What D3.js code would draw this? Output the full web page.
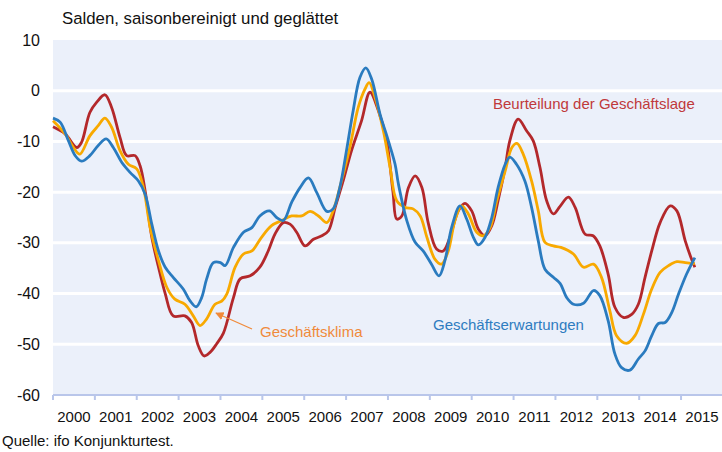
<!DOCTYPE html>
<html>
<head>
<meta charset="utf-8">
<script src="https://cdn.jsdelivr.net/npm/d3@7"></script>
<style>
  body { margin: 0; background: #fff; }
  text { font-family: "Liberation Sans", Arial, sans-serif; }
</style>
</head>
<body>
<div id="chart"></div>
<script>
// decimal year, balance value
const lageData = [
  [2000.0,-7.1],[2000.29,-8.5],[2000.57,-11.2],[2000.68,-10.2],[2000.88,-4.3],[2001.04,-2.3],
  [2001.24,-0.8],[2001.40,-3.3],[2001.60,-9.2],[2001.76,-12.8],[2001.96,-12.8],[2002.08,-14.8],
  [2002.2,-19.7],[2002.36,-28.9],[2002.52,-34.8],[2002.68,-40],[2002.87,-44.4],[2003.15,-44.4],
  [2003.31,-45.7],[2003.47,-50.3],[2003.61,-52.3],[2003.75,-51.6],[2003.91,-49.9],[2004.07,-47.8],
  [2004.31,-40.8],[2004.47,-37.1],[2004.71,-36.5],[2004.94,-34.8],[2005.14,-31.6],[2005.3,-28.3],
  [2005.5,-26],[2005.66,-26.3],[2005.82,-27.9],[2006.02,-30.6],[2006.22,-29.3],[2006.42,-28.6],
  [2006.58,-27.6],[2006.74,-23],[2006.93,-17.8],[2007.13,-11.8],[2007.37,-5.9],[2007.57,-0.3],
  [2007.77,-3.9],[2007.97,-9.9],[2008.12,-20],[2008.21,-25.3],[2008.33,-24.7],[2008.49,-19.1],
  [2008.65,-16.8],[2008.81,-19.1],[2008.96,-26],[2009.16,-31.2],[2009.32,-31.6],[2009.48,-28.9],
  [2009.68,-23.7],[2009.84,-22.2],[2010.0,-23.7],[2010.16,-27.3],[2010.32,-28.6],[2010.48,-26.6],
  [2010.63,-21.7],[2010.8,-15.1],[2010.91,-9.9],[2011.11,-5.6],[2011.31,-7.9],[2011.47,-9.9],
  [2011.63,-15.1],[2011.79,-21.7],[2011.95,-24.3],[2012.11,-22.8],[2012.31,-21],[2012.47,-23],
  [2012.71,-28.3],[2012.90,-28.6],[2013.06,-30.6],[2013.26,-36.2],[2013.42,-42.7],[2013.62,-44.7],
  [2013.82,-44.1],[2013.98,-42.1],[2014.14,-36.8],[2014.30,-31.6],[2014.50,-26],[2014.74,-22.7],
  [2014.9,-23.7],[2015.1,-29.6],[2015.25,-33.2],[2015.33,-34.8]
];
const klimaData = [
  [2000.0,-5.9],[2000.29,-8.5],[2000.49,-11.2],[2000.64,-12.5],[2000.88,-8.9],[2001.08,-6.9],
  [2001.24,-5.4],[2001.40,-7.2],[2001.60,-11.8],[2001.8,-14.5],[2002.0,-15.4],[2002.16,-19.1],
  [2002.32,-27],[2002.52,-33.5],[2002.72,-38.8],[2002.91,-41.1],[2003.15,-42.1],[2003.35,-44.4],
  [2003.51,-46.3],[2003.67,-45],[2003.87,-42.1],[2004.03,-41.5],[2004.15,-40.1],[2004.35,-34.8],
  [2004.55,-32.2],[2004.75,-31.6],[2004.98,-28.9],[2005.22,-26.6],[2005.46,-25.6],[2005.7,-24.7],
  [2005.94,-24.7],[2006.14,-23.8],[2006.34,-24.7],[2006.54,-26],[2006.69,-23.7],[2006.89,-17.8],
  [2007.09,-11.2],[2007.29,-3.3],[2007.45,0.3],[2007.55,1.6],[2007.69,-1.3],[2007.89,-7.9],
  [2008.05,-15.1],[2008.21,-21.7],[2008.41,-23],[2008.6,-23.3],[2008.77,-24.7],[2008.93,-28.9],
  [2009.12,-33.2],[2009.28,-34.2],[2009.44,-31.6],[2009.6,-25.6],[2009.76,-22.7],[2009.92,-24.3],
  [2010.12,-27.9],[2010.28,-28.6],[2010.44,-27],[2010.6,-21.7],[2010.8,-15.8],[2010.96,-11.2],
  [2011.08,-10.4],[2011.23,-12.5],[2011.43,-17.8],[2011.59,-23.7],[2011.75,-29.9],[2011.95,-30.6],
  [2012.13,-30.9],[2012.43,-32.2],[2012.67,-34.8],[2012.91,-34.2],[2013.1,-36.8],[2013.3,-43.4],
  [2013.46,-48.3],[2013.7,-49.8],[2013.9,-48.3],[2014.1,-44.1],[2014.3,-39.1],[2014.5,-35.8],
  [2014.7,-34.5],[2014.9,-33.7],[2015.1,-33.9],[2015.33,-34.1]
];
const erwartungData = [
  [2000.0,-5.4],[2000.17,-6.2],[2000.37,-9.9],[2000.53,-12.8],[2000.68,-13.9],[2000.88,-12.8],
  [2001.08,-10.8],[2001.27,-9.5],[2001.44,-11.2],[2001.64,-14.1],[2001.84,-16.1],[2002.04,-17.8],
  [2002.2,-20.4],[2002.36,-26.3],[2002.52,-31.6],[2002.68,-34.8],[2002.87,-36.8],[2003.11,-39.1],
  [2003.27,-41.4],[2003.42,-42.6],[2003.55,-40.8],[2003.67,-37.1],[2003.83,-33.9],[2004.0,-33.9],
  [2004.11,-34.5],[2004.31,-30.9],[2004.55,-27.9],[2004.75,-27],[2004.94,-24.7],[2005.17,-23.7],
  [2005.34,-25],[2005.5,-25.6],[2005.7,-22],[2005.9,-19.1],[2006.1,-17.2],[2006.3,-20.1],
  [2006.54,-23.8],[2006.69,-23.3],[2006.85,-19.1],[2007.01,-11.8],[2007.17,-3.9],[2007.33,2.6],
  [2007.47,4.5],[2007.61,2.3],[2007.81,-4.6],[2008.01,-9.9],[2008.17,-14.5],[2008.25,-18.4],
  [2008.45,-25.6],[2008.65,-29.9],[2008.84,-31.6],[2009.04,-34.2],[2009.22,-36.5],[2009.36,-33.5],
  [2009.52,-27],[2009.72,-22.7],[2009.88,-25.3],[2010.04,-28.9],[2010.16,-30.4],[2010.32,-28.9],
  [2010.48,-25],[2010.63,-19.1],[2010.8,-14.5],[2010.91,-13.1],[2011.07,-14.5],[2011.27,-17.8],
  [2011.43,-23],[2011.59,-29.6],[2011.75,-35.2],[2011.95,-36.8],[2012.11,-38],[2012.27,-40.8],
  [2012.43,-42.1],[2012.67,-41.9],[2012.91,-39.4],[2013.06,-40.4],[2013.26,-45.4],[2013.42,-51.9],
  [2013.58,-54.6],[2013.78,-55.1],[2013.98,-52.9],[2014.14,-51.3],[2014.30,-48.3],[2014.46,-45.9],
  [2014.62,-45.7],[2014.78,-43.7],[2014.94,-40.1],[2015.13,-36.2],[2015.33,-32.9]
];
const years = d3.range(2000, 2016);
const yTicks = [10, 0, -10, -20, -30, -40, -50, -60];

const width = 722, height = 452;
const margin = { top: 40, right: 0, bottom: 57, left: 53 };

const svg = d3.select("#chart").append("svg")
    .attr("width", width)
    .attr("height", height);

const x = d3.scaleLinear().domain([2000, 2016]).range([margin.left, margin.left + 16 * 41.87]);
const y = d3.scaleLinear().domain([-60, 10]).range([height - margin.bottom, margin.top]);

// plot background
svg.append("rect")
    .attr("x", x(2000)).attr("y", y(10))
    .attr("width", width - x(2000)).attr("height", y(-60) - y(10))
    .attr("fill", "#ebf0fa");

// gridlines
svg.append("g").selectAll("line")
    .data(yTicks.filter(d => d > -60 && d < 10))
    .join("line")
    .attr("x1", x(2000)).attr("x2", width)
    .attr("y1", d => y(d)).attr("y2", d => y(d))
    .attr("stroke", "#fff").attr("stroke-width", 3);

// y labels
svg.append("g").selectAll("text")
    .data(yTicks)
    .join("text")
    .attr("x", 40).attr("y", d => y(d))
    .attr("dy", "0.35em")
    .attr("text-anchor", "end")
    .attr("font-size", 16)
    .attr("fill", "#111")
    .text(d => d);

// x axis
const xAxis = svg.append("g").attr("transform", `translate(0,${y(-60)})`);
xAxis.append("line")
    .attr("x1", x(2000)).attr("x2", width)
    .attr("stroke", "#b9c6ea").attr("stroke-width", 2);
xAxis.selectAll(".tick")
    .data(years)
    .join("line")
    .attr("class", "tick")
    .attr("x1", d => x(d)).attr("x2", d => x(d))
    .attr("y1", 0).attr("y2", 5)
    .attr("stroke", "#b9c6ea").attr("stroke-width", 2);
xAxis.selectAll(".lbl")
    .data(years)
    .join("text")
    .attr("class", "lbl")
    .attr("x", d => x(d + 0.5)).attr("y", 27)
    .attr("text-anchor", "middle")
    .attr("font-size", 15)
    .attr("fill", "#111")
    .text(d => d);

// lines
const line = d3.line()
    .x(d => x(d[0]))
    .y(d => y(d[1]))
    .curve(d3.curveCatmullRom.alpha(0.5));

const series = [
  { data: lageData, color: "#b3282b" },
  { data: klimaData, color: "#f8a900" },
  { data: erwartungData, color: "#2a7bbf" }
];
svg.append("g").selectAll("path")
    .data(series)
    .join("path")
    .attr("d", d => line(d.data))
    .attr("fill", "none")
    .attr("stroke", d => d.color)
    .attr("stroke-width", 2.8)
    .attr("stroke-linejoin", "round");

// annotations
svg.append("text")
    .attr("x", 493).attr("y", 109)
    .attr("font-size", 15)
    .attr("fill", "#c0393b")
    .text("Beurteilung der Geschäftslage");

svg.append("text")
    .attr("x", 433).attr("y", 330)
    .attr("font-size", 15)
    .attr("fill", "#2e7cc0")
    .text("Geschäftserwartungen");

svg.append("text")
    .attr("x", 260).attr("y", 337)
    .attr("font-size", 15)
    .attr("fill", "#f08a3a")
    .text("Geschäftsklima");

svg.append("defs").append("marker")
    .attr("id", "arr")
    .attr("viewBox", "0 0 10 10")
    .attr("refX", 9).attr("refY", 5)
    .attr("markerWidth", 7).attr("markerHeight", 7)
    .attr("orient", "auto")
    .append("path")
    .attr("d", "M0,0 L10,5 L0,10 Z")
    .attr("fill", "#f08a3a");

svg.append("line")
    .attr("x1", 252).attr("y1", 329)
    .attr("x2", 216).attr("y2", 313)
    .attr("stroke", "#f08a3a").attr("stroke-width", 1.2)
    .attr("marker-end", "url(#arr)");

// title and source
svg.append("text")
    .attr("x", 62).attr("y", 24)
    .attr("font-size", 16.8)
    .attr("fill", "#111")
    .text("Salden, saisonbereinigt und geglättet");

svg.append("text")
    .attr("x", 2).attr("y", 446)
    .attr("font-size", 15)
    .attr("fill", "#111")
    .text("Quelle: ifo Konjunkturtest.");
</script>
</body>
</html>
